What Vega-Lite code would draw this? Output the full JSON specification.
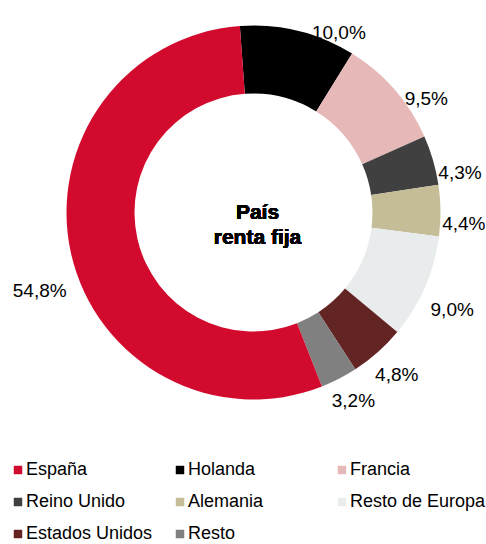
{
  "$schema": "https://vega.github.io/schema/vega-lite/v6.json",
  "width": 507,
  "height": 425,
  "padding": 0,
  "autosize": {"type": "pad"},
  "background": "white",
  "config": {"view": {"stroke": null}, "font": "Liberation Sans"},
  "data": {
    "values": [
      {"pais": "Holanda", "pct": 10.0, "orden": 1},
      {"pais": "Francia", "pct": 9.5, "orden": 2},
      {"pais": "Reino Unido", "pct": 4.3, "orden": 3},
      {"pais": "Alemania", "pct": 4.4, "orden": 4},
      {"pais": "Resto de Europa", "pct": 9.0, "orden": 5},
      {"pais": "Estados Unidos", "pct": 4.8, "orden": 6},
      {"pais": "Resto", "pct": 3.2, "orden": 7},
      {"pais": "España", "pct": 54.8, "orden": 8}
    ]
  },
  "transform": [
    {"calculate": "replace(format(datum.pct, '.1f'), '.', ',') + '%'", "as": "etiqueta"}
  ],
  "layer": [
    {
      "mark": {"type": "arc", "outerRadius": 187, "innerRadius": 119},
      "encoding": {
        "theta": {"field": "pct", "type": "quantitative", "stack": true, "scale": {"range": [-0.073, 6.2102]}},
        "order": {"field": "orden", "type": "quantitative"},
        "color": {
          "field": "pais",
          "type": "nominal",
          "scale": {
            "domain": ["España", "Holanda", "Francia", "Reino Unido", "Alemania", "Resto de Europa", "Estados Unidos", "Resto"],
            "range": ["#D20B2E", "#000000", "#E6B8B7", "#404040", "#C4BD97", "#E9ECEC", "#632523", "#808080"]
          },
          "legend": {
            "orient": "none",
            "legendX": 9,
            "legendY": 461,
            "direction": "horizontal",
            "columns": 3,
            "gridAlign": "all",
            "columnPadding": 9,
            "rowPadding": 14,
            "symbolType": "square",
            "symbolSize": 72,
            "symbolStrokeWidth": 0,
            "symbolOpacity": 1,
            "labelOffset": -1,
            "labelFontSize": 18,
            "labelFont": "Liberation Sans",
            "labelColor": "black",
            "labelLimit": 300,
            "title": null,
            "padding": 0
          }
        }
      }
    },
    {
      "mark": {"type": "text", "radius": 189, "fontSize": 19, "color": "black", "font": "Liberation Sans", "align": "left", "baseline": "middle"},
      "encoding": {
        "theta": {"field": "pct", "type": "quantitative", "stack": true, "scale": {"range": [0, 6.2832]}},
        "order": {"field": "orden", "type": "quantitative"},
        "text": {"field": "etiqueta"},
        "opacity": {"condition": {"test": "datum.orden <= 4", "value": 1}, "value": 0}
      }
    },
    {
      "mark": {"type": "text", "radius": 200, "fontSize": 19, "color": "black", "font": "Liberation Sans", "align": "left", "baseline": "middle", "dy": 4},
      "encoding": {
        "theta": {"field": "pct", "type": "quantitative", "stack": true, "scale": {"range": [0, 6.2832]}},
        "order": {"field": "orden", "type": "quantitative"},
        "text": {"field": "etiqueta"},
        "opacity": {"condition": {"test": "datum.orden >= 5 && datum.orden <= 7", "value": 1}, "value": 0}
      }
    },
    {
      "mark": {"type": "text", "radius": 189, "fontSize": 19, "color": "black", "font": "Liberation Sans", "align": "right", "baseline": "middle", "dy": 50},
      "encoding": {
        "theta": {"field": "pct", "type": "quantitative", "stack": true, "scale": {"range": [0, 6.2832]}},
        "order": {"field": "orden", "type": "quantitative"},
        "text": {"field": "etiqueta"},
        "opacity": {"condition": {"test": "datum.pais === 'España'", "value": 1}, "value": 0}
      }
    },
    {
      "mark": {"type": "text", "text": ["País", "renta fija"], "fontSize": 21, "fontWeight": "bold", "lineHeight": 25, "dy": 6.5, "dx": 4, "baseline": "alphabetic", "color": "black", "font": "Liberation Sans"},
      "encoding": {}
    }
  ],
  "resolve": {"scale": {"theta": "independent"}}
}
